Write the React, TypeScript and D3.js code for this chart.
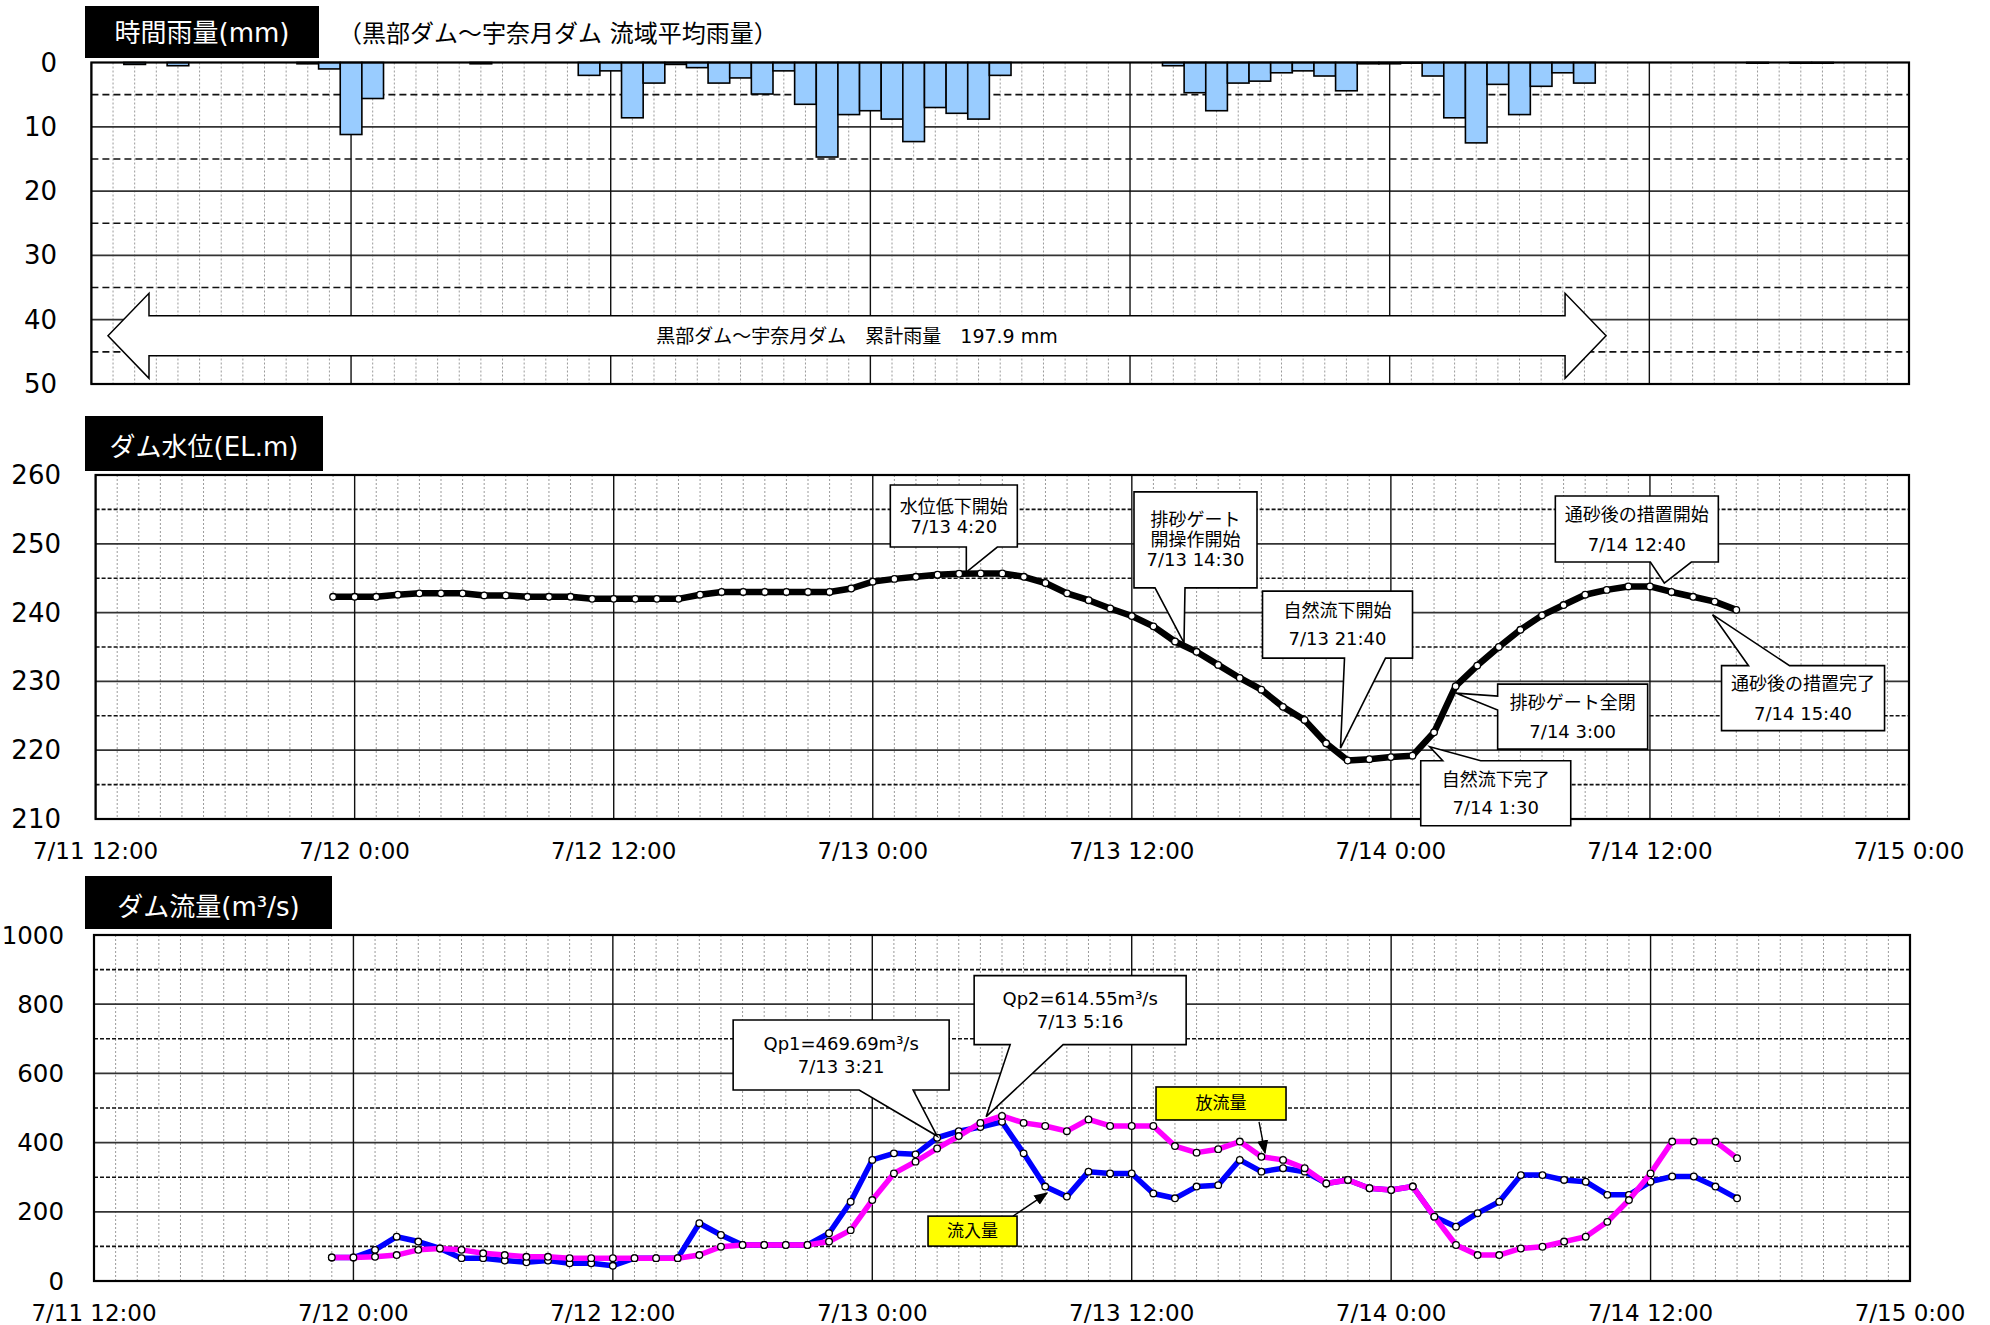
import React from "react";
import * as d3 from "d3";

// ---------- data ----------
const YEAR = 2020;
const xTickLabels = ["7/11 12:00", "7/12 0:00", "7/12 12:00", "7/13 0:00", "7/13 12:00", "7/14 0:00", "7/14 12:00", "7/15 0:00"];

const rainMajorTicks = [0, 10, 20, 30, 40, 50];
const rainMinorTicks = [5, 15, 25, 35, 45];
const levelMajorTicks = [210, 220, 230, 240, 250, 260];
const levelMinorTicks = [215, 225, 235, 245, 255];
const flowMajorTicks = [0, 200, 400, 600, 800, 1000];
const flowMinorTicks = [100, 300, 500, 700, 900];

// hourly rainfall (mm), first bar centred on 7/11 13:00
const rainStart = "7/11 13:00";
const rainfall = [
  0, 0.3, 0, 0.5, 0, 0, 0, 0, 0, 0.2, 1.0, 11.2, 5.6, 0, 0, 0, 0, 0.2, 0, 0, 0, 0, 2.0, 1.3,
  8.6, 3.2, 0.3, 0.8, 3.2, 2.4, 4.9, 1.3, 6.5, 14.7, 8.1, 7.5, 8.8, 12.3, 7.0, 7.9, 8.8, 2.0,
  0, 0, 0, 0, 0, 0, 0, 0.5, 4.7, 7.5, 3.2, 2.9, 1.6, 1.3, 2.1, 4.4, 0.2, 0.2, 0.1, 2.1, 8.6,
  12.5, 3.4, 8.1, 3.7, 1.6, 3.2, 0, 0, 0, 0, 0, 0, 0, 0.1, 0, 0.1, 0.1,
];
const rainTotalLabel = "黒部ダム～宇奈月ダム　累計雨量　197.9 mm";

// hourly series, first point 7/11 23:00
const seriesStart = "7/11 23:00";
const waterLevel = [
  242.3, 242.3, 242.3, 242.6, 242.8, 242.8, 242.8, 242.5, 242.5, 242.3, 242.3, 242.3, 242.0, 242.0,
  242.0, 242.0, 242.0, 242.6, 243.0, 243.0, 243.0, 243.0, 243.0, 243.0, 243.5, 244.5, 244.9, 245.2,
  245.5, 245.65, 245.7, 245.7, 245.2, 244.3, 242.8, 241.8, 240.6, 239.5, 238.0, 235.8, 234.3, 232.4,
  230.5, 228.8, 226.3, 224.4, 221.0, 218.5, 218.7, 219.0, 219.2, 222.6, 229.3, 232.3, 235.0, 237.5,
  239.6, 241.1, 242.6, 243.3, 243.8, 243.8, 243.0, 242.3, 241.6, 240.4,
];
const inflow = [
  68, 68, 90, 128, 114, 94, 66, 66, 59, 54, 59, 51, 51, 44, 66, 66, 66, 167, 133, 104, 104, 104,
  104, 138, 229, 350, 369, 366, 414, 433, 445, 460, 369, 273, 244, 316, 311, 311, 253, 239, 273,
  277, 350, 316, 326, 316, 282, 292, 268, 263, 273, 186, 157, 196, 229, 306, 306, 292, 287, 249,
  249, 287, 302, 302, 273, 239,
];
const outflow = [
  68, 68, 70, 75, 90, 94, 90, 80, 75, 70, 70, 66, 66, 66, 66, 66, 66, 75, 99, 104, 104, 104, 104,
  114, 147, 234, 311, 345, 383, 419, 457, 477, 457, 448, 433, 467, 448, 448, 448, 390, 371, 381,
  403, 359, 350, 326, 282, 292, 268, 263, 273, 186, 104, 75, 75, 94, 99, 114, 128, 171, 234, 311,
  403, 403, 403, 355,
];

// annotations (tip point in data units)
const levelNotes = [
  { lines: ["水位低下開始", "7/13  4:20"], time: "7/13 4:20", value: 245.9 },
  { lines: ["排砂ゲート", "開操作開始", "7/13 14:30"], time: "7/13 14:25", value: 235.6 },
  { lines: ["自然流下開始", "7/13 21:40"], time: "7/13 21:40", value: 220.3 },
  { lines: ["自然流下完了", "7/14 1:30"], time: "7/14 1:48", value: 220.5 },
  { lines: ["排砂ゲート全閉", "7/14 3:00"], time: "7/14 3:00", value: 228.3 },
  { lines: ["通砂後の措置開始", "7/14 12:40"], time: "7/14 12:40", value: 244.3 },
  { lines: ["通砂後の措置完了", "7/14 15:40"], time: "7/14 14:54", value: 239.7 },
];
const flowNotes = [
  { lines: ["Qp1=469.69m³/s", "7/13  3:21"], time: "7/13 3:00", value: 419 },
  { lines: ["Qp2=614.55m³/s", "7/13  5:16"], time: "7/13 5:16", value: 475 },
];
const flowLegend = [
  { label: "放流量", time: "7/13 18:10", value: 370 },
  { label: "流入量", time: "7/13 8:05", value: 254 },
];

// ---------- layout ----------
const FONT = "'DejaVu Sans', Verdana, 'Noto Sans CJK JP', sans-serif";
function parseT(s: string): Date {
  const m = s.match(/(\d+)\/(\d+)\s+(\d+):(\d+)/)!;
  return new Date(YEAR, +m[1] - 1, +m[2], +m[3], +m[4]);
}
const T0 = parseT(xTickLabels[0]);
const T1 = parseT(xTickLabels[xTickLabels.length - 1]);
const hourly = (start: string, n: number) => d3.range(n).map((i) => d3.timeHour.offset(parseT(start), i));

const rainX = d3.scaleTime().domain([T0, T1]).range([91.4, 1909]);
const rainY = d3.scaleLinear().domain([0, 50]).range([62.5, 384]);
const levX = d3.scaleTime().domain([T0, T1]).range([95.6, 1909]);
const levY = d3.scaleLinear().domain([210, 260]).range([819, 475]);
const flowX = d3.scaleTime().domain([T0, T1]).range([94, 1910]);
const flowY = d3.scaleLinear().domain([0, 1000]).range([1281, 935]);

function Grid({ x, y, major, minor, dash }: any) {
  const [l, r] = x.range();
  const [y0, y1] = y.range();
  const top = Math.min(y0, y1), bot = Math.max(y0, y1);
  const hours = d3.timeHour.range(T0, T1).filter((d) => (d.getTime() - T0.getTime()) / 3600000 % 12 !== 0);
  const majorsX = xTickLabels.map(parseT);
  return (
    <g>
      {hours.map((d, i) => (
        <line key={"h" + i} x1={x(d)} x2={x(d)} y1={top} y2={bot} stroke="#9a9a9a" strokeWidth={1} strokeDasharray="2,2" />
      ))}
      {minor.map((v: number) => (
        <line key={"mn" + v} x1={l} x2={r} y1={y(v)} y2={y(v)} stroke="#111" strokeWidth={1.6} strokeDasharray={dash} />
      ))}
      {major.map((v: number) => (
        <line key={"mj" + v} x1={l} x2={r} y1={y(v)} y2={y(v)} stroke="#333" strokeWidth={1.8} />
      ))}
      {majorsX.map((d, i) => (
        <line key={"mx" + i} x1={x(d)} x2={x(d)} y1={top} y2={bot} stroke="#111" strokeWidth={1.4} />
      ))}
    </g>
  );
}

function Frame({ x, y }: any) {
  const [l, r] = x.range();
  const [y0, y1] = y.range();
  return <rect x={l} y={Math.min(y0, y1)} width={r - l} height={Math.abs(y1 - y0)} fill="none" stroke="#000" strokeWidth={2.2} />;
}

function YLabels({ y, ticks, right, size = 26 }: any) {
  return (
    <g>
      {ticks.map((v: number) => (
        <text key={v} x={right} y={y(v)} textAnchor="end" dominantBaseline="central" fontSize={size} fontFamily={FONT}>
          {v}
        </text>
      ))}
    </g>
  );
}

function XLabels({ x, yPos }: any) {
  return (
    <g>
      {xTickLabels.map((s) => (
        <text key={s} x={x(parseT(s))} y={yPos} textAnchor="middle" dominantBaseline="central" fontSize={23} fontFamily={FONT}>
          {s}
        </text>
      ))}
    </g>
  );
}

function TitleBox({ x, y, w, h, text, dy = 2 }: any) {
  return (
    <g>
      <rect x={x} y={y} width={w} height={h} fill="#000" />
      <text x={x + w / 2} y={y + h / 2 + dy} textAnchor="middle" dominantBaseline="central" fill="#fff" fontSize={26} fontFamily={FONT}>
        {text}
      </text>
    </g>
  );
}

function calloutPath(bx: number, by: number, bw: number, bh: number, side: string, b1: number, b2: number, tx: number, ty: number) {
  const r = bx + bw, b = by + bh;
  if (side === "bottom") return `M${bx},${by}H${r}V${b}H${b2}L${tx},${ty}L${b1},${b}H${bx}Z`;
  if (side === "top") return `M${bx},${by}H${b1}L${tx},${ty}L${b2},${by}H${r}V${b}H${bx}Z`;
  return `M${bx},${by}H${r}V${b}H${bx}V${b2}L${tx},${ty}L${bx},${b1}Z`;
}

// callout geometry relative to the tip: box dx, dy, w, h, side, base offsets, line gap
const levelBoxes = [
  { dx: -76, dy: -87, w: 127, h: 62, side: "bottom", b1: 0, b2: 31, gap: 20 },
  { dx: -50, dy: -151, w: 123, h: 96, side: "bottom", b1: -29, b2: 1, gap: 20 },
  { dx: -78, dy: -157, w: 150, h: 67, side: "bottom", b1: 4, b2: 45, gap: 28 },
  { dx: -9, dy: 14, w: 150, h: 65, side: "top", b1: 13, b2: 51, gap: 28 },
  { dx: 42, dy: -9, w: 150, h: 65, side: "left", b1: 3, b2: 17, gap: 29 },
  { dx: -109, dy: -87, w: 163, h: 66, side: "bottom", b1: -14, b2: 27, gap: 30 },
  { dx: 9, dy: 51, w: 163, h: 65, side: "top", b1: 36, b2: 77, gap: 30 },
];
const flowBoxes = [
  { dx: -204, dy: -116, w: 216, h: 70, side: "bottom", b1: -78, b2: -24, gap: 23 },
  { dx: -12, dy: -141, w: 212, h: 69, side: "bottom", b1: 24, b2: 77, gap: 23 },
];
const legendBoxes = [
  { dx: -109, dy: -66, w: 130, h: 33, ax: -6, ay: -31 },
  { dx: -119, dy: 23, w: 89, h: 30, ax: -34, ay: 23 },
];

function Callout({ note, box, x, y }: any) {
  const tx = x(parseT(note.time));
  const ty = y(note.value);
  const bx = tx + box.dx, by = ty + box.dy;
  const isH = box.side !== "left";
  const b1 = isH ? tx + box.b1 : ty + box.b1;
  const b2 = isH ? tx + box.b2 : ty + box.b2;
  const n = note.lines.length;
  const cy = by + box.h / 2;
  return (
    <g>
      <path d={calloutPath(bx, by, box.w, box.h, box.side, b1, b2, tx, ty)} fill="#fff" stroke="#000" strokeWidth={1.6} strokeLinejoin="miter" />
      {note.lines.map((s: string, i: number) => (
        <text key={i} x={bx + box.w / 2} y={cy + (i - (n - 1) / 2) * box.gap} textAnchor="middle" dominantBaseline="central" fontSize={18} fontFamily={FONT}>
          {s}
        </text>
      ))}
    </g>
  );
}

function Series({ x, y, values, start, color, width }: any) {
  const times = hourly(start, values.length);
  const pts: [number, number][] = values.map((v: number, i: number) => [x(times[i]), y(v)]);
  const line = d3.line();
  return (
    <g>
      <path d={line(pts) || ""} fill="none" stroke={color} strokeWidth={width} strokeLinejoin="round" />
      {pts.map((p, i) => (
        <circle key={i} cx={p[0]} cy={p[1]} r={3.3} fill="#fff" stroke="#000" strokeWidth={1.3} />
      ))}
    </g>
  );
}

export default function App() {
  const rainTimes = hourly(rainStart, rainfall.length);
  // double arrow in rain panel
  const aL = rainX(d3.timeMinute.offset(T0, 46));
  const aR = rainX(parseT("7/14 10:00"));
  const aY = rainY(42.5);
  const headLen = 41, bodyH = 20, headH = 42.5;
  const arrowPath = `M${aL},${aY}L${aL + headLen},${aY - headH}V${aY - bodyH}H${aR - headLen}V${aY - headH}L${aR},${aY}L${aR - headLen},${aY + headH}V${aY + bodyH}H${aL + headLen}V${aY + headH}Z`;

  return (
    <svg width={1990} height={1325} style={{ position: "absolute", left: 0, top: 0, background: "#fff" }} fontFamily={FONT}>
      <defs>
        <marker id="ah2" viewBox="0 0 10 10" refX="9" refY="5" markerWidth="14" markerHeight="14" orient="auto" markerUnits="userSpaceOnUse">
          <path d="M0,1L10,5L0,9Z" fill="#000" />
        </marker>
      </defs>
      <rect x={0} y={0} width={1990} height={1325} fill="#fff" />

      {/* ---------- rainfall panel ---------- */}
      <TitleBox x={85} y={6} w={234} h={52} text="時間雨量(mm)" dy={1} />
      <text x={338} y={34} dominantBaseline="central" fontSize={24} fontFamily={FONT}>
        （黒部ダム～宇奈月ダム 流域平均雨量）
      </text>
      <Grid x={rainX} y={rainY} major={rainMajorTicks.slice(1, -1)} minor={rainMinorTicks} dash="7,4" />
      {rainfall.map((v, i) => {
        if (v <= 0) return null;
        const xa = rainX(d3.timeMinute.offset(rainTimes[i], -30));
        const xb = rainX(d3.timeMinute.offset(rainTimes[i], 30));
        return <rect key={i} x={xa} y={rainY(0)} width={xb - xa} height={rainY(v) - rainY(0)} fill="#99CCFF" stroke="#000" strokeWidth={1.6} />;
      })}
      <path d={arrowPath} fill="#fff" stroke="#000" strokeWidth={1.5} />
      <text x={(aL + aR) / 2} y={aY} textAnchor="middle" dominantBaseline="central" fontSize={19} fontFamily={FONT}>
        {rainTotalLabel}
      </text>
      <Frame x={rainX} y={rainY} />
      <YLabels y={rainY} ticks={rainMajorTicks} right={57} />

      {/* ---------- water level panel ---------- */}
      <TitleBox x={85} y={416} w={238} h={55} text="ダム水位(EL.m)" dy={3} />
      <Grid x={levX} y={levY} major={levelMajorTicks.slice(1, -1)} minor={levelMinorTicks} dash="4,2" />
      <Frame x={levX} y={levY} />
      <Series x={levX} y={levY} values={waterLevel} start={seriesStart} color="#000" width={6.5} />
      {levelNotes.map((n, i) => (
        <Callout key={i} note={n} box={levelBoxes[i]} x={levX} y={levY} />
      ))}
      <YLabels y={levY} ticks={levelMajorTicks} right={61} />
      <XLabels x={levX} yPos={851} />

      {/* ---------- flow panel ---------- */}
      <TitleBox x={85} y={876} w={247} h={53} text="ダム流量(m³/s)" dy={4} />
      <Grid x={flowX} y={flowY} major={flowMajorTicks.slice(1, -1)} minor={flowMinorTicks} dash="4,2" />
      <Frame x={flowX} y={flowY} />
      <Series x={flowX} y={flowY} values={inflow} start={seriesStart} color="#0000FF" width={5.5} />
      <Series x={flowX} y={flowY} values={outflow} start={seriesStart} color="#FF00FF" width={5.5} />
      {flowNotes.map((n, i) => (
        <Callout key={i} note={n} box={flowBoxes[i]} x={flowX} y={flowY} />
      ))}
      {flowLegend.map((n, i) => {
        const b = legendBoxes[i];
        const tx = flowX(parseT(n.time));
        const ty = flowY(n.value);
        return (
          <g key={i}>
            <line x1={tx + b.ax} y1={ty + b.ay} x2={tx} y2={ty} stroke="#000" strokeWidth={1.4} markerEnd="url(#ah2)" />
            <rect x={tx + b.dx} y={ty + b.dy} width={b.w} height={b.h} fill="#FFFF00" stroke="#000" strokeWidth={1.6} />
            <text x={tx + b.dx + b.w / 2} y={ty + b.dy + b.h / 2} textAnchor="middle" dominantBaseline="central" fontSize={17} fontFamily={FONT}>
              {n.label}
            </text>
          </g>
        );
      })}
      <YLabels y={flowY} ticks={flowMajorTicks} right={64} size={24.5} />
      <XLabels x={flowX} yPos={1313} />
    </svg>
  );
}
